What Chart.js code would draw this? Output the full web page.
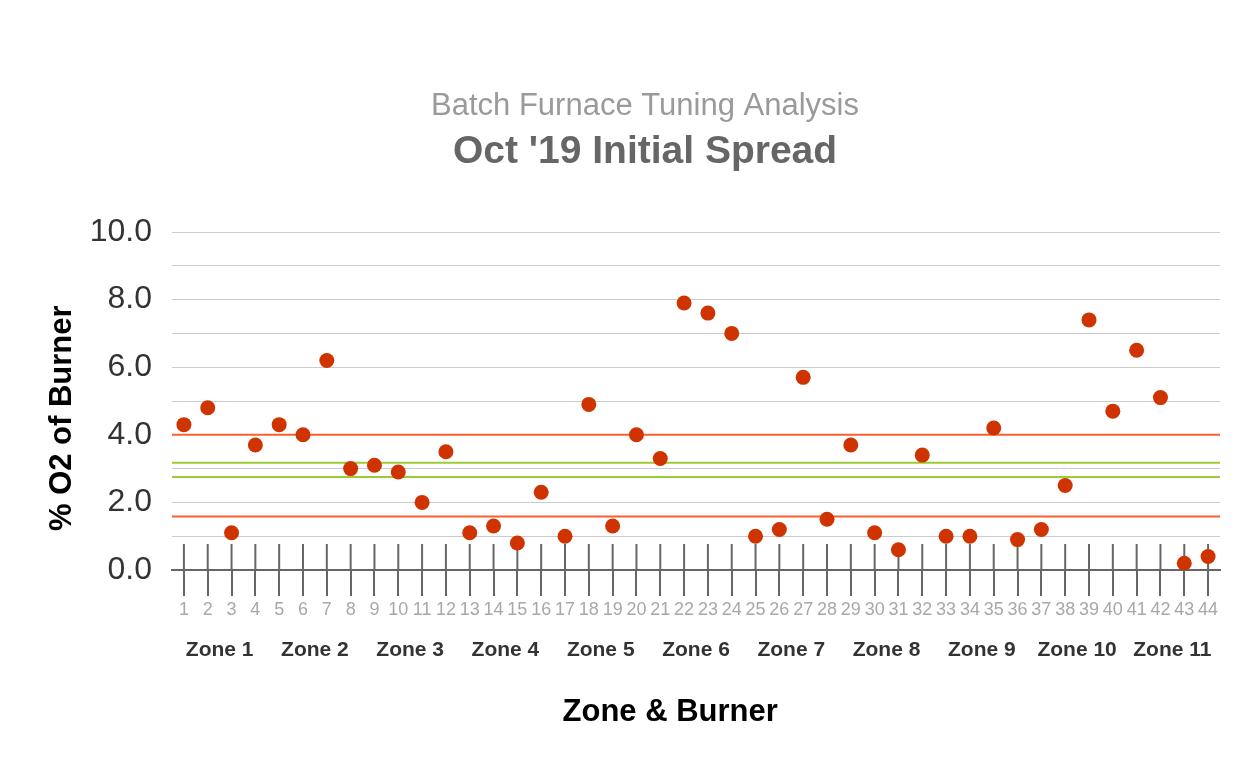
<!DOCTYPE html>
<html>
<head>
<meta charset="utf-8">
<script src="https://cdn.jsdelivr.net/npm/chart.js@4.4.0/dist/chart.umd.min.js"></script>
<style>
  html, body { margin: 0; padding: 0; background: #ffffff; }
  #wrap { width: 1260px; height: 779px; }
</style>
</head>
<body>
<div id="wrap"><canvas id="c" width="1260" height="779"></canvas></div>
<script>
// ---- data ----
const burners = ['1','2','3','4','5','6','7','8','9','10','11','12','13','14','15','16','17','18','19','20','21','22',
                 '23','24','25','26','27','28','29','30','31','32','33','34','35','36','37','38','39','40','41','42','43','44'];
const zones = ['Zone 1','Zone 2','Zone 3','Zone 4','Zone 5','Zone 6','Zone 7','Zone 8','Zone 9','Zone 10','Zone 11'];
const o2Values = [4.3, 4.8, 1.1, 3.7, 4.3, 4.0, 6.2, 3.0, 3.1, 2.9, 2.0, 3.5, 1.1, 1.3, 0.8, 2.3, 1.0, 4.9, 1.3, 4.0, 3.3, 7.9,
                  7.6, 7.0, 1.0, 1.2, 5.7, 1.5, 3.7, 1.1, 0.6, 3.4, 1.0, 1.0, 4.2, 0.9, 1.2, 2.5, 7.4, 4.7, 6.5, 5.1, 0.2, 0.4];
const limitLines = [4.0, 1.58];
const targetLines = [3.17, 2.75];
const titleText = 'Batch Furnace Tuning Analysis';
const subtitleText = "Oct '19 Initial Spread";
const xTitleText = 'Zone & Burner';
const yTitleText = '% O2 of Burner';
const NB = '\u00a0';

Chart.defaults.font.family = "'Liberation Sans', Arial, Helvetica, sans-serif";

const refPlugin = {
  id: 'refLines',
  beforeDatasetsDraw(chart) {
    const { ctx, chartArea, scales } = chart;
    const x = scales.x, y = scales.y;
    ctx.save();
    ctx.lineWidth = 2;
    ctx.strokeStyle = '#f9602f';
    limitLines.forEach(v => {
      const py = y.getPixelForValue(v);
      ctx.beginPath(); ctx.moveTo(chartArea.left, py); ctx.lineTo(chartArea.right, py); ctx.stroke();
    });
    ctx.strokeStyle = '#9ccb35';
    targetLines.forEach(v => {
      const py = y.getPixelForValue(v);
      ctx.beginPath(); ctx.moveTo(chartArea.left, py); ctx.lineTo(chartArea.right, py); ctx.stroke();
    });
    // upper half of the burner tick marks (lower half drawn by the axis)
    const y0 = y.getPixelForValue(0);
    ctx.strokeStyle = '#666666';
    burners.forEach((b, i) => {
      const px = x.getPixelForValue(i);
      ctx.beginPath(); ctx.moveTo(px, y0 - 26); ctx.lineTo(px, y0); ctx.stroke();
    });
    ctx.restore();
  }
};

new Chart(document.getElementById('c'), {
  type: 'line',
  data: {
    labels: burners,
    datasets: [{
      label: '% O2',
      data: o2Values,
      showLine: false,
      pointRadius: 7.5,
      pointHoverRadius: 7.5,
      pointBorderWidth: 0,
      pointBackgroundColor: '#cf3400',
      borderColor: '#cf3400',
      xAxisID: 'x',
      yAxisID: 'y'
    }]
  },
  options: {
    responsive: false,
    animation: false,
    devicePixelRatio: 1,
    layout: { padding: { left: 40, right: 10, top: 79, bottom: 38 } },
    plugins: {
      legend: { display: false },
      tooltip: { enabled: false },
      title: {
        display: true, text: titleText, color: '#9a9a9a',
        font: { size: 31, weight: 'normal' }, padding: { top: 9, bottom: 0 }
      },
      subtitle: {
        display: true, text: subtitleText, color: '#666666',
        font: { size: 39, weight: 'bold' }, padding: { top: 4, bottom: 56 }
      }
    },
    scales: {
      x: {
        type: 'category', labels: burners, position: 'bottom', weight: 0, offset: true,
        grid: { display: true, drawOnChartArea: false, drawTicks: true, tickLength: 26, color: '#666666', lineWidth: 2, offset: false },
        border: { display: true, color: '#666666', width: 2 },
        ticks: { autoSkip: false, maxRotation: 0, minRotation: 0, padding: 3, color: '#a8a8a8', font: { size: 18 } }
      },
      x2: {
        type: 'category', labels: zones, position: 'bottom', weight: 1, offset: true,
        grid: { display: false, drawTicks: false },
        border: { display: false },
        ticks: { autoSkip: false, maxRotation: 0, minRotation: 0, padding: 14, color: '#333333', font: { size: 21, weight: 'bold' } },
        title: { display: true, text: xTitleText + NB.repeat(6), color: '#000000', font: { size: 31, weight: 'bold' }, padding: { top: 17, bottom: 10 } }
      },
      y: {
        position: 'left', min: 0, max: 10, weight: 0,
        afterFit(s) { s.width = 132; },
        ticks: {
          stepSize: 1, autoSkip: false, padding: 20, color: '#333333', font: { size: 32 },
          callback: v => (v % 2 === 0 ? v.toFixed(1) : '')
        },
        grid: {
          drawTicks: false, lineWidth: 1,
          color: c => (c.tick && c.tick.value === 0 ? 'rgba(0,0,0,0)' : '#cccccc')
        },
        border: { display: false },
        title: { display: true, text: yTitleText + NB.repeat(4), color: '#000000', font: { size: 31, weight: 'bold' }, padding: { top: 4, bottom: 0 } }
      },
      y2: {
        position: 'right', display: true,
        afterFit(s) { s.width = 30; },
        grid: { display: false, drawTicks: false },
        border: { display: false },
        ticks: { display: false }
      }
    }
  },
  plugins: [refPlugin]
});
</script>
</body>
</html>
